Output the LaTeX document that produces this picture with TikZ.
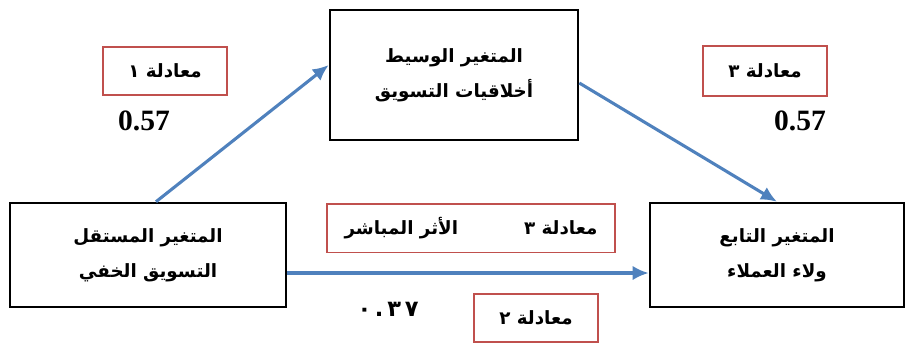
\documentclass[tikz,border=0pt]{standalone}
\usepackage{fontspec}
\setmainfont{Liberation Serif}
\newfontfamily\arabicfont[Script=Arabic]{DejaVu Sans}
\TeXXeTstate=1
\definecolor{flowblue}{RGB}{79, 129, 189}
\definecolor{eqred}{RGB}{192, 80, 77}
\usepackage{tikz}
\usetikzlibrary{arrows.meta, positioning}

\tikzset{
  varbox/.style={draw=black, line width=1.8pt, fill=white, align=center,
    font=\arabicfont\bfseries\fontsize{13}{25}\selectfont},
  eqbox/.style={draw=eqred, line width=1.3pt, fill=white, align=center,
    font=\arabicfont\bfseries\fontsize{13}{16}\selectfont},
  coef/.style={font=\bfseries\fontsize{21}{24}\selectfont},
  flow/.style={draw=flowblue, line width=2.2pt, -{Latex[length=4mm, width=3.6mm]}}
}

\begin{document}
\begin{tikzpicture}[x=0.025cm, y=-0.025cm]
  \useasboundingbox (0,0) rectangle (906,344);

  % variables
  \node[varbox, minimum width=6.2cm, minimum height=3.25cm] (mediator) at (454,75)
    {\beginR المتغير الوسيط\endR\\ \beginR أخلاقيات التسويق\endR};
  \node[varbox, minimum width=6.9cm, minimum height=2.6cm] (indep) at (148,255)
    {\beginR المتغير المستقل\endR\\ \beginR التسويق الخفي\endR};
  \node[varbox, minimum width=6.35cm, minimum height=2.6cm] (dep) at (777,255)
    {\beginR المتغير التابع\endR\\ \beginR ولاء العملاء\endR};

  % equations
  \node[eqbox, minimum width=3.1cm, minimum height=1.2cm] (eqone) at (165,71) {\beginR معادلة ١\endR};
  \node[coef] (coefone) at (144,121) {0.57};
  \node[eqbox, minimum width=3.1cm, minimum height=1.25cm] (eqthree) at (765,71) {\beginR معادلة ٣\endR};
  \node[coef] (coefthree) at (800,121) {0.57};
  \node[eqbox, minimum width=7.2cm, minimum height=1.22cm] (eqdirect) at (471,228)
    {\beginR معادلة ٣\hspace{1.65cm}الأثر المباشر\endR};
  \node[eqbox, minimum width=3.08cm, minimum height=1.2cm] (eqtwo) at (536,318) {\beginR معادلة ٢\endR};
  \node[font=\arabicfont\bfseries\fontsize{16}{18}\selectfont] (coeftwo) at (388,309) {٠\,.\,٣\,٧};

  % paths
  \draw[flow] ([xshift=0.2cm]indep.north) -- ([yshift=0.25cm]mediator.west);
  \draw[flow] ([yshift=-0.2cm]mediator.east) -- (dep.north);
  \draw[flow] ([yshift=-0.45cm]indep.east) -- ([yshift=-0.45cm]dep.west);
\end{tikzpicture}
\end{document}
